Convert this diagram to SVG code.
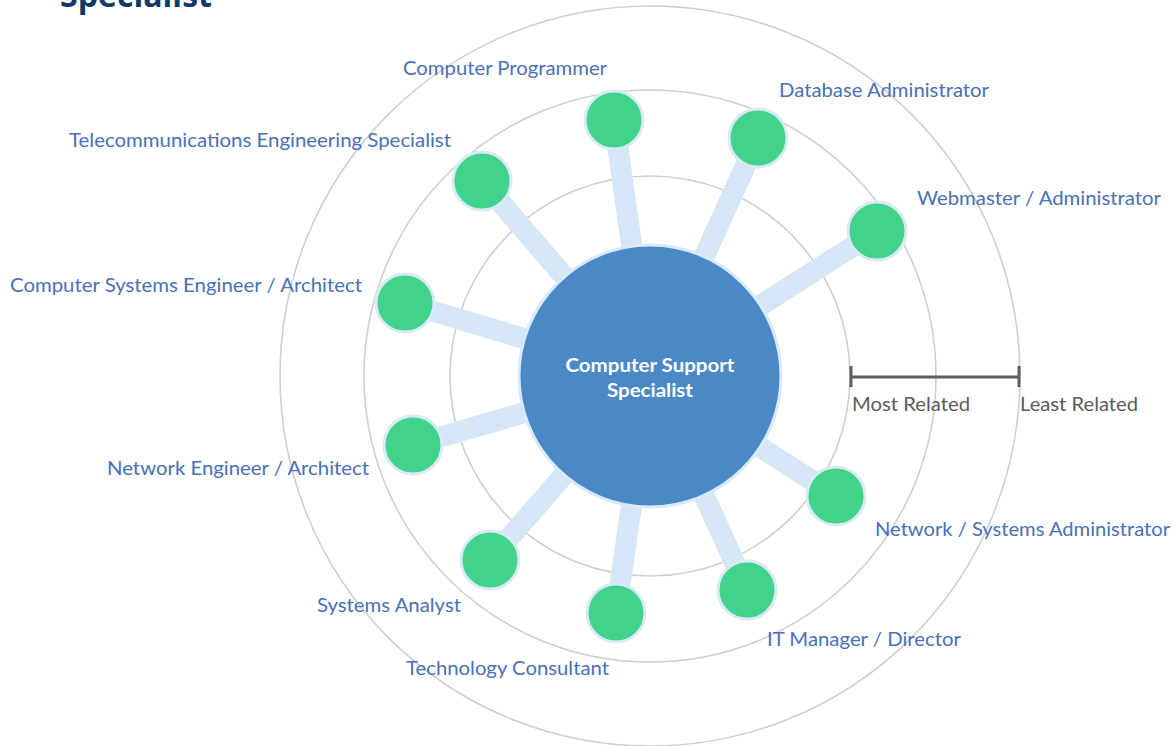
<svg xmlns="http://www.w3.org/2000/svg" width="1173" height="746" viewBox="0 0 1173 746">
<style>
.ring{fill:none;stroke:#cfcfcf;stroke-width:1.6}
.spoke{stroke:#d5e7f6;stroke-width:21;stroke-linecap:butt}
.node{fill:#41d28b;stroke:#d8eaf8;stroke-width:3}
.lbl{font-family:Lato,"Open Sans","Liberation Sans",sans-serif;font-size:19px;fill:#4a70b5}
.ctr{font-family:Lato,"Open Sans","Liberation Sans",sans-serif;font-size:19px;font-weight:bold;fill:#ffffff}
.scale{font-family:Lato,"Open Sans","Liberation Sans",sans-serif;font-size:19px;fill:#5b5b5b}
</style>
<rect width="1173" height="746" fill="#ffffff"/>
<text x="60" y="7" font-family="'Open Sans','Liberation Sans',sans-serif" font-size="32" font-weight="bold" fill="#0f3a66" textLength="152" lengthAdjust="spacingAndGlyphs">Specialist</text>
<g id="rings">
<circle class="ring" cx="650" cy="376" r="370"/>
<circle class="ring" cx="650" cy="376" r="286"/>
<circle class="ring" cx="650" cy="376" r="200"/>
</g>
<g id="connectors">
<line class="spoke" x1="650" y1="376" x2="614" y2="120"/>
<line class="spoke" x1="650" y1="376" x2="758" y2="138"/>
<line class="spoke" x1="650" y1="376" x2="877" y2="231"/>
<line class="spoke" x1="650" y1="376" x2="482" y2="181"/>
<line class="spoke" x1="650" y1="376" x2="405" y2="303"/>
<line class="spoke" x1="650" y1="376" x2="413" y2="445"/>
<line class="spoke" x1="650" y1="376" x2="490" y2="560"/>
<line class="spoke" x1="650" y1="376" x2="616" y2="613"/>
<line class="spoke" x1="650" y1="376" x2="747" y2="590"/>
<line class="spoke" x1="650" y1="376" x2="836" y2="496"/>
</g>
<g id="center">
<circle cx="650" cy="376" r="131" fill="#4a89c6" stroke="#d8eaf8" stroke-width="3"/>
<text class="ctr" x="650" y="372" text-anchor="middle" textLength="169" lengthAdjust="spacingAndGlyphs">Computer Support</text>
<text class="ctr" x="650" y="397" text-anchor="middle" textLength="86" lengthAdjust="spacingAndGlyphs">Specialist</text>
</g>
<g id="n-programmer"><circle class="node" cx="614" cy="120" r="29"/><text class="lbl" x="403" y="75" textLength="204" lengthAdjust="spacingAndGlyphs">Computer Programmer</text></g>
<g id="n-dba"><circle class="node" cx="758" cy="138" r="29"/><text class="lbl" x="779" y="97" textLength="210" lengthAdjust="spacingAndGlyphs">Database Administrator</text></g>
<g id="n-webmaster"><circle class="node" cx="877" cy="231" r="29"/><text class="lbl" x="917" y="205" textLength="244" lengthAdjust="spacingAndGlyphs">Webmaster / Administrator</text></g>
<g id="n-telecom"><circle class="node" cx="482" cy="181" r="29"/><text class="lbl" x="69" y="147" textLength="382" lengthAdjust="spacingAndGlyphs">Telecommunications Engineering Specialist</text></g>
<g id="n-cse"><circle class="node" cx="405" cy="303" r="29"/><text class="lbl" x="10" y="292" textLength="352" lengthAdjust="spacingAndGlyphs">Computer Systems Engineer / Architect</text></g>
<g id="n-neteng"><circle class="node" cx="413" cy="445" r="29"/><text class="lbl" x="107" y="475" textLength="262" lengthAdjust="spacingAndGlyphs">Network Engineer / Architect</text></g>
<g id="n-analyst"><circle class="node" cx="490" cy="560" r="29"/><text class="lbl" x="317" y="612" textLength="144" lengthAdjust="spacingAndGlyphs">Systems Analyst</text></g>
<g id="n-consultant"><circle class="node" cx="616" cy="613" r="29"/><text class="lbl" x="406" y="675" textLength="203" lengthAdjust="spacingAndGlyphs">Technology Consultant</text></g>
<g id="n-itmanager"><circle class="node" cx="747" cy="590" r="29"/><text class="lbl" x="767" y="646" textLength="194" lengthAdjust="spacingAndGlyphs">IT Manager / Director</text></g>
<g id="n-netsys"><circle class="node" cx="836" cy="496" r="29"/><text class="lbl" x="875" y="536" textLength="295" lengthAdjust="spacingAndGlyphs">Network / Systems Administrator</text></g>
<g id="legend">
<line x1="851" y1="377" x2="1019" y2="377" stroke="#5e5e5e" stroke-width="3"/>
<line x1="851" y1="366" x2="851" y2="387" stroke="#5e5e5e" stroke-width="3"/>
<line x1="1019" y1="366" x2="1019" y2="387" stroke="#5e5e5e" stroke-width="3"/>
<text class="scale" x="852" y="411" textLength="118" lengthAdjust="spacingAndGlyphs">Most Related</text>
<text class="scale" x="1020" y="411" textLength="118" lengthAdjust="spacingAndGlyphs">Least Related</text>
</g>
</svg>
